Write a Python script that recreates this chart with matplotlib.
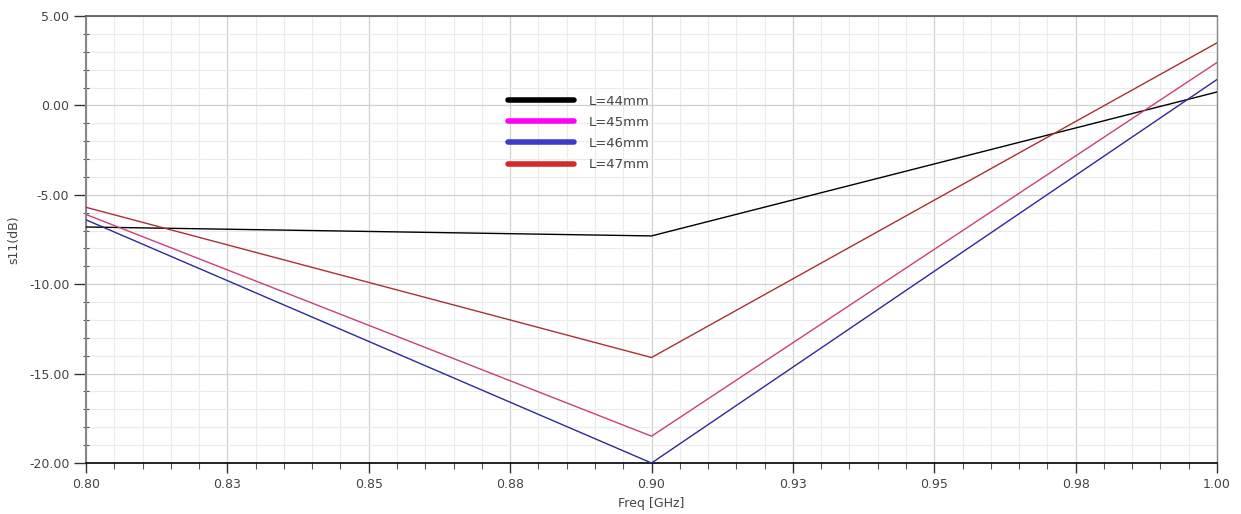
"""S11 versus frequency for four patch lengths."""

import matplotlib.pyplot as plt
from matplotlib.ticker import FixedLocator, MultipleLocator

plt.rcParams["font.family"] = ["DejaVu Sans"]

# ── Data ────────────────────────────────────────────────────────────── #

freq_ghz = [0.80, 0.90, 1.00]
s11_l44 = [-6.80, -7.30, 0.75]
s11_l45 = [-6.10, -18.50, 2.40]
s11_l46 = [-6.40, -20.00, 1.45]
s11_l47 = [-5.70, -14.10, 3.50]

labels = ["L=44mm", "L=45mm", "L=46mm", "L=47mm"]
x_ticks = [0.80, 0.825, 0.85, 0.875, 0.90, 0.925, 0.95, 0.975, 1.00]
x_tick_labels = ["0.80", "0.83", "0.85", "0.88", "0.90", "0.93", "0.95", "0.98", "1.00"]
y_ticks = [-20, -15, -10, -5, 0, 5]

# line colour as drawn, legend swatch colour
colors = [("#000000", "#000000"), ("#c8407a", "#ff00ff"),
          ("#2a2a9a", "#3c3cc8"), ("#a83232", "#d42a2a")]

TXT = "#444444"
FS = 9

fig = plt.figure(figsize=(12.41, 5.14), dpi=100)
ax = fig.add_axes([0.0693, 0.0992, 0.9114, 0.8697])

for ys, lab, (lc, _) in zip([s11_l44, s11_l45, s11_l46, s11_l47], labels, colors):
    ax.plot(freq_ghz, ys, color=lc, linewidth=1.0, label=lab, zorder=3)

ax.set_xlim(0.80, 1.00)
ax.set_ylim(-20, 5)

ax.xaxis.set_major_locator(FixedLocator(x_ticks))
ax.set_xticklabels(x_tick_labels)
ax.xaxis.set_minor_locator(MultipleLocator(0.005))
ax.yaxis.set_major_locator(FixedLocator(y_ticks))
ax.set_yticklabels([f"{v:.2f}" for v in y_ticks])
ax.yaxis.set_minor_locator(MultipleLocator(1))

ax.grid(which="major", color="#d0d0d0", linewidth=0.9)
ax.grid(which="minor", color="#ebebeb", linewidth=0.8)
ax.set_axisbelow(True)

ax.tick_params(axis="both", which="major", labelsize=FS, labelcolor=TXT,
               color="#333333", width=1.0, direction="out")
ax.tick_params(axis="y", which="major", length=9, pad=3)
ax.tick_params(axis="x", which="major", length=7, pad=4)
ax.tick_params(axis="x", which="minor", length=4, width=0.8,
               color="#555555", direction="out")
ax.tick_params(axis="y", which="minor", length=4, width=0.8,
               color="#555555", direction="inout")

for side, c, w in [("top", "#555555", 1.2), ("right", "#888888", 1.0),
                   ("left", "#888888", 1.5), ("bottom", "#000000", 1.2)]:
    ax.spines[side].set_color(c)
    ax.spines[side].set_linewidth(w)

ax.set_xlabel("Freq [GHz]", fontsize=FS, color=TXT, labelpad=4)
ax.set_ylabel("s11(dB)", fontsize=FS, color=TXT, labelpad=6)

handles = [plt.Line2D([], [], color=sc, linewidth=4, solid_capstyle="round")
           for _, sc in colors]
leg = ax.legend(handles, labels, loc="upper left",
                bbox_to_anchor=(0.373, 0.824), frameon=False, fontsize=9.5,
                borderpad=0, borderaxespad=0,
                handlelength=5.0, handletextpad=1.1, labelspacing=0.62)
for t in leg.get_texts():
    t.set_color(TXT)

fig.savefig("out.png", dpi=100, facecolor="white")
